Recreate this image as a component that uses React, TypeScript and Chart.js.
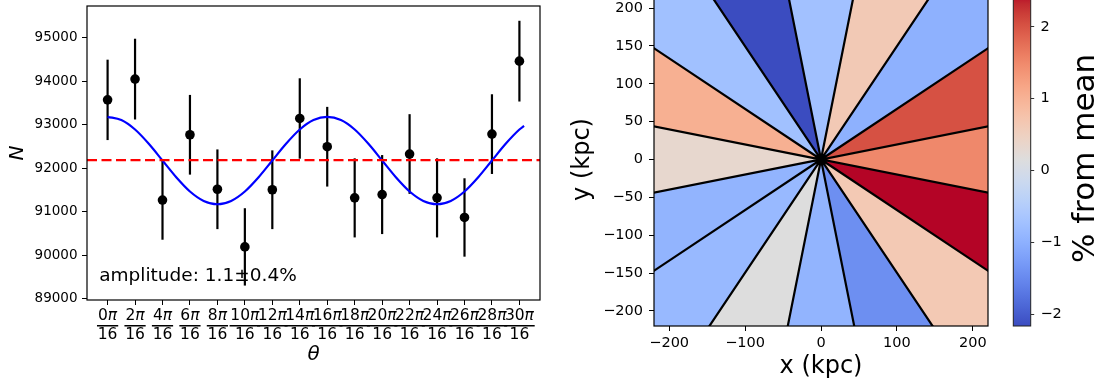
import React, { useEffect, useRef } from 'react';
import { Chart, registerables } from 'chart.js';

Chart.register(...registerables);

const FONT = '"DejaVu Sans", sans-serif';

// ---------- data (left panel) ----------
const THETA_INDEX = [0, 1, 2, 3, 4, 5, 6, 7, 8, 9, 10, 11, 12, 13, 14, 15];
const THETA_NUMERATORS = ['0π', '2π', '4π', '6π', '8π', '10π', '12π', '14π', '16π', '18π', '20π', '22π', '24π', '26π', '28π', '30π'];
const THETA_DENOMINATOR = '16';
const N_COUNTS = [93570, 94048, 91265, 92767, 91513, 90187, 91502, 93142, 92492, 91315, 91391, 92324, 91315, 90864, 92782, 94461];
const N_ERRORS = [925, 929, 913, 917, 917, 890, 906, 925, 917, 910, 909, 917, 910, 902, 917, 929];
const FIT_THETA_INDEX = [
  0, 0.5, 1, 1.5, 2, 2.5, 3, 3.5, 4, 4.5, 5, 5.5, 6, 6.5, 7, 7.5,
  8, 8.5, 9, 9.5, 10, 10.5, 11, 11.5, 12, 12.5, 13, 13.5, 14, 14.5, 15, 15.17,
];
const FIT_N = [
  93180, 93105, 92888, 92560, 92175, 91790, 91462, 91245, 91168, 91245, 91462, 91790, 92175, 92560, 92888, 93105,
  93180, 93105, 92888, 92560, 92175, 91790, 91462, 91245, 91168, 91245, 91462, 91790, 92175, 92560, 92888, 92970,
];
const N_TICKS = [89000, 90000, 91000, 92000, 93000, 94000, 95000];
const AMPLITUDE_TEXT = 'amplitude: 1.1±0.4%';

// ---------- right panel ----------
const KPC_X_TICKS = [-200, -100, 0, 100, 200];
const KPC_Y_TICKS = [-200, -150, -100, -50, 0, 50, 100, 150, 200];
const PCT_TICKS = [-2, -1, 0, 1, 2];

// derived
const N_MEAN = N_COUNTS.reduce((s, v) => s + v, 0) / N_COUNTS.length;
const PCT = N_COUNTS.map((n) => (n / N_MEAN - 1) * 100);
const PCT_MIN = Math.min(...PCT);
const PCT_MAX = Math.max(...PCT);

// matplotlib "coolwarm" colour map stops
const COOLWARM = [
  [59, 76, 192], [68, 90, 204], [77, 104, 215], [87, 117, 225], [98, 130, 234], [108, 142, 241],
  [119, 154, 247], [130, 165, 251], [141, 176, 254], [152, 185, 255], [163, 194, 255], [174, 201, 253],
  [184, 208, 249], [194, 213, 244], [204, 217, 238], [213, 219, 230], [221, 221, 221], [229, 216, 209],
  [236, 211, 197], [241, 204, 185], [245, 196, 173], [247, 187, 160], [247, 177, 148], [247, 166, 135],
  [244, 154, 123], [241, 141, 111], [236, 127, 99], [229, 112, 88], [222, 96, 77], [213, 80, 66],
  [203, 62, 56], [192, 40, 47], [180, 4, 38],
];

function coolwarm(t: number): string {
  const tt = Math.max(0, Math.min(1, t));
  const f = tt * (COOLWARM.length - 1);
  const i = Math.min(COOLWARM.length - 2, Math.floor(f));
  const u = f - i;
  const a = COOLWARM[i];
  const b = COOLWARM[i + 1];
  const c = a.map((v, k) => Math.round(v + (b[k] - v) * u));
  return `rgb(${c[0]},${c[1]},${c[2]})`;
}

const fmtMinus = (v: number) => (v < 0 ? '\u2212' + Math.abs(v) : String(v));

const zeroPad = (s: any) => {
  s.paddingTop = 0;
  s.paddingBottom = 0;
  s.paddingLeft = 0;
  s.paddingRight = 0;
};

const framePlugin = {
  id: 'frame',
  afterDraw(chart: any) {
    const { ctx, chartArea: a } = chart;
    ctx.save();
    ctx.strokeStyle = '#000';
    ctx.lineWidth = 1.2;
    ctx.strokeRect(a.left, a.top, a.right - a.left, a.bottom - a.top);
    ctx.restore();
  },
};

const errorBarPlugin = {
  id: 'errorBars',
  beforeDatasetsDraw(chart: any) {
    const { ctx, scales } = chart;
    const x = scales.x;
    const y = scales.y;
    ctx.save();
    ctx.strokeStyle = '#000';
    ctx.lineWidth = 2.2;
    THETA_INDEX.forEach((t, i) => {
      const px = x.getPixelForValue(t);
      ctx.beginPath();
      ctx.moveTo(px, y.getPixelForValue(N_COUNTS[i] - N_ERRORS[i]));
      ctx.lineTo(px, y.getPixelForValue(N_COUNTS[i] + N_ERRORS[i]));
      ctx.stroke();
    });
    ctx.restore();
  },
};

const fractionTickPlugin = {
  id: 'fractionTicks',
  afterDraw(chart: any) {
    const { ctx, chartArea: a, scales } = chart;
    const x = scales.x;
    const size = 15.5;
    const up = `${size}px ${FONT}`;
    const it = `italic ${size}px ${FONT}`;
    ctx.save();
    ctx.fillStyle = '#000';
    ctx.textBaseline = 'alphabetic';
    ctx.textAlign = 'left';
    THETA_INDEX.forEach((t, i) => {
      const px = x.getPixelForValue(t);
      const num = THETA_NUMERATORS[i];
      const digits = num.slice(0, -1);
      const pi = num.slice(-1);
      ctx.font = up;
      const dw = ctx.measureText(digits).width;
      const denW = ctx.measureText(THETA_DENOMINATOR).width;
      ctx.font = it;
      const pw = ctx.measureText(pi).width;
      const nw = dw + pw;
      const left = px - nw / 2;
      ctx.font = up;
      ctx.fillText(digits, left, a.bottom + 20.3);
      ctx.font = it;
      ctx.fillText(pi, left + dw, a.bottom + 20.3);
      ctx.font = up;
      ctx.fillText(THETA_DENOMINATOR, px - denW / 2, a.bottom + 39.3);
      const bw = Math.max(nw, denW) + 1.5;
      ctx.fillRect(px - bw / 2, a.bottom + 25, bw, 1.5);
    });
    ctx.restore();
  },
};

const amplitudePlugin = {
  id: 'amplitude',
  afterDatasetsDraw(chart: any) {
    const { ctx, chartArea: a } = chart;
    ctx.save();
    ctx.fillStyle = '#000';
    ctx.font = `18.5px ${FONT}`;
    ctx.textAlign = 'left';
    ctx.textBaseline = 'alphabetic';
    const w = a.right - a.left;
    const h = a.bottom - a.top;
    ctx.fillText(AMPLITUDE_TEXT, a.left + 0.027 * w, a.bottom - 0.065 * h);
    ctx.restore();
  },
};

const colorbarPlugin = {
  id: 'colorbar',
  afterDraw(chart: any) {
    const { ctx, chartArea: a, scales } = chart;
    const y = scales.y;
    const y0 = y.getPixelForValue(PCT_MIN);
    const y1 = y.getPixelForValue(PCT_MAX);
    ctx.save();
    const g = ctx.createLinearGradient(0, y0, 0, y1);
    COOLWARM.forEach((c, i) => g.addColorStop(i / (COOLWARM.length - 1), `rgb(${c[0]},${c[1]},${c[2]})`));
    ctx.fillStyle = g;
    ctx.fillRect(a.left, Math.min(y0, y1), a.right - a.left, Math.abs(y1 - y0));
    ctx.strokeStyle = '#222';
    ctx.lineWidth = 1;
    ctx.strokeRect(a.left, a.top, a.right - a.left, a.bottom - a.top);
    ctx.translate(a.right + 62.8, (a.top + a.bottom) / 2 - 1);
    ctx.rotate(-Math.PI / 2);
    ctx.fillStyle = '#000';
    ctx.font = `31px ${FONT}`;
    ctx.textAlign = 'center';
    ctx.textBaseline = 'alphabetic';
    ctx.fillText('% from mean', 0, 0);
    ctx.restore();
  },
};

const tickGrid = (len: number) => ({
  drawOnChartArea: false,
  drawTicks: true,
  tickLength: len,
  color: '#000',
  lineWidth: 1,
});

export default function App() {
  const leftRef = useRef<HTMLCanvasElement | null>(null);
  const rightRef = useRef<HTMLCanvasElement | null>(null);
  const barRef = useRef<HTMLCanvasElement | null>(null);

  useEffect(() => {
    Chart.defaults.color = '#000';
    Chart.defaults.font.family = FONT;

    const X_MIN = -0.75;
    const X_MAX = 15.75;

    const left = new Chart(leftRef.current as HTMLCanvasElement, {
      type: 'scatter',
      data: {
        datasets: [
          {
            label: 'mean',
            data: [{ x: X_MIN, y: N_MEAN }, { x: X_MAX, y: N_MEAN }],
            showLine: true,
            borderColor: '#ff0000',
            borderWidth: 2.2,
            borderDash: [10, 4.5],
            pointRadius: 0,
            order: 0,
          } as any,
          {
            label: 'fit',
            data: FIT_THETA_INDEX.map((x, i) => ({ x, y: FIT_N[i] })),
            showLine: true,
            borderColor: '#0000ff',
            borderWidth: 2.2,
            pointRadius: 0,
            cubicInterpolationMode: 'monotone',
            order: 1,
          } as any,
          {
            label: 'N',
            data: THETA_INDEX.map((x, i) => ({ x, y: N_COUNTS[i] })),
            pointRadius: 4.8,
            pointBackgroundColor: '#000',
            pointBorderColor: '#000',
            pointBorderWidth: 0,
            order: 2,
          } as any,
        ],
      },
      options: {
        animation: false,
        responsive: false,
        events: [],
        layout: { padding: { left: 0, top: 6, right: 20, bottom: 0 } },
        plugins: { legend: { display: false }, tooltip: { enabled: false } },
        scales: {
          x: {
            type: 'linear',
            min: X_MIN,
            max: X_MAX,
            afterBuildTicks: (s: any) => {
              s.ticks = THETA_INDEX.map((v) => ({ value: v }));
            },
            ticks: { display: false },
            grid: tickGrid(5),
            border: { display: false },
            title: {
              display: true,
              text: 'θ',
              color: '#000',
              font: { family: FONT, size: 20, style: 'italic' },
              padding: { top: 0, bottom: 18 },
            },
            afterFit: (s: any) => {
              s.height = 85;
              zeroPad(s);
            },
          },
          y: {
            type: 'linear',
            min: 88965,
            max: 95730,
            afterBuildTicks: (s: any) => {
              s.ticks = N_TICKS.map((v) => ({ value: v }));
            },
            ticks: {
              color: '#000',
              font: { family: FONT, size: 13.5 },
              padding: 4.5,
              callback: (v: any) => String(v),
            },
            grid: tickGrid(5),
            border: { display: false },
            title: {
              display: true,
              text: 'N',
              color: '#000',
              font: { family: FONT, size: 20, style: 'italic' },
              padding: { top: 6, bottom: 0 },
            },
            afterFit: (s: any) => {
              s.width = 87;
              zeroPad(s);
            },
          },
        },
      } as any,
      plugins: [errorBarPlugin, amplitudePlugin, framePlugin, fractionTickPlugin],
    });

    // ---- right: wedges ----
    const nW = THETA_INDEX.length;
    const half = Math.PI / nW;
    const R = 400;
    const thetaRad = (i: number) => (THETA_INDEX[i] * 2 * Math.PI) / nW;
    const norm = (p: number) => (p - PCT_MIN) / (PCT_MAX - PCT_MIN);

    const wedgeSets = THETA_INDEX.map((t, i) => {
      const th = thetaRad(i);
      const a1 = th - half;
      const a2 = th + half;
      return {
        label: 'wedge' + i,
        data: [
          { x: 0, y: 0 },
          { x: R * Math.cos(a1), y: R * Math.sin(a1) },
          { x: R * Math.cos(a2), y: R * Math.sin(a2) },
          { x: 0, y: 0 },
        ],
        showLine: true,
        fill: 'shape',
        backgroundColor: coolwarm(norm(PCT[i])),
        borderColor: 'rgba(0,0,0,0)',
        borderWidth: 0,
        pointRadius: 0,
        order: 1,
      } as any;
    });

    const starData: { x: number; y: number }[] = [];
    THETA_INDEX.forEach((t, i) => {
      const a = thetaRad(i) + half;
      starData.push({ x: 0, y: 0 }, { x: R * Math.cos(a), y: R * Math.sin(a) });
    });
    starData.push({ x: 0, y: 0 });

    const right = new Chart(rightRef.current as HTMLCanvasElement, {
      type: 'scatter',
      data: {
        datasets: [
          ...wedgeSets,
          {
            label: 'edges',
            data: starData,
            showLine: true,
            borderColor: '#000',
            borderWidth: 2.2,
            pointRadius: 0,
            order: 0,
          } as any,
        ],
      },
      options: {
        animation: false,
        responsive: false,
        events: [],
        layout: { padding: { left: 0, top: 3, right: 115, bottom: 0 } },
        plugins: { legend: { display: false }, tooltip: { enabled: false } },
        scales: {
          x: {
            type: 'linear',
            min: -220,
            max: 220,
            afterBuildTicks: (s: any) => {
              s.ticks = KPC_X_TICKS.map((v) => ({ value: v }));
            },
            ticks: { color: '#000', font: { family: FONT, size: 14.5 }, padding: 4, maxRotation: 0, callback: (v: any) => fmtMinus(v) },
            grid: tickGrid(5),
            border: { display: false },
            title: {
              display: true,
              text: 'x (kpc)',
              color: '#000',
              font: { family: FONT, size: 24 },
              padding: { top: 0, bottom: 4 },
            },
            afterFit: (s: any) => {
              s.height = 59;
              zeroPad(s);
            },
          },
          y: {
            type: 'linear',
            min: -220,
            max: 220,
            afterBuildTicks: (s: any) => {
              s.ticks = KPC_Y_TICKS.map((v) => ({ value: v }));
            },
            ticks: { color: '#000', font: { family: FONT, size: 14.5 }, padding: 6, callback: (v: any) => fmtMinus(v) },
            grid: tickGrid(5),
            border: { display: false },
            title: {
              display: true,
              text: 'y (kpc)',
              color: '#000',
              font: { family: FONT, size: 24 },
              padding: { top: 8, bottom: 0 },
            },
            afterFit: (s: any) => {
              s.width = 94;
              zeroPad(s);
            },
          },
        },
      } as any,
      plugins: [framePlugin],
    });

    const bar = new Chart(barRef.current as HTMLCanvasElement, {
      type: 'scatter',
      data: { datasets: [] },
      options: {
        animation: false,
        responsive: false,
        events: [],
        layout: { padding: { left: 13.3, top: 3, right: 0, bottom: 59 } },
        plugins: { legend: { display: false }, tooltip: { enabled: false } },
        scales: {
          x: { type: 'linear', display: false, min: 0, max: 1, afterFit: (s: any) => zeroPad(s) },
          y: {
            type: 'linear',
            position: 'right',
            min: PCT_MIN,
            max: PCT_MAX,
            afterBuildTicks: (s: any) => {
              s.ticks = PCT_TICKS.map((v) => ({ value: v }));
            },
            ticks: { color: '#000', font: { family: FONT, size: 14.5 }, padding: 6.2, callback: (v: any) => fmtMinus(v) },
            grid: { ...tickGrid(3.5), color: '#333' },
            border: { display: false },
            afterFit: (s: any) => {
              s.width = 72.3;
              zeroPad(s);
            },
          },
        },
      } as any,
      plugins: [colorbarPlugin],
    });

    return () => {
      left.destroy();
      right.destroy();
      bar.destroy();
    };
  }, []);

  return (
    <div style={{ position: 'absolute', left: 0, top: 0, width: 1103, height: 385, overflow: 'hidden', background: '#fff' }}>
      <canvas ref={leftRef} width={560} height={385} style={{ position: 'absolute', left: 0, top: 0, width: 560, height: 385 }} />
      <canvas ref={rightRef} width={543} height={395} style={{ position: 'absolute', left: 560, top: -10, width: 543, height: 395 }} />
      <canvas ref={barRef} width={103} height={395} style={{ position: 'absolute', left: 1000, top: -10, width: 103, height: 395 }} />
    </div>
  );
}
